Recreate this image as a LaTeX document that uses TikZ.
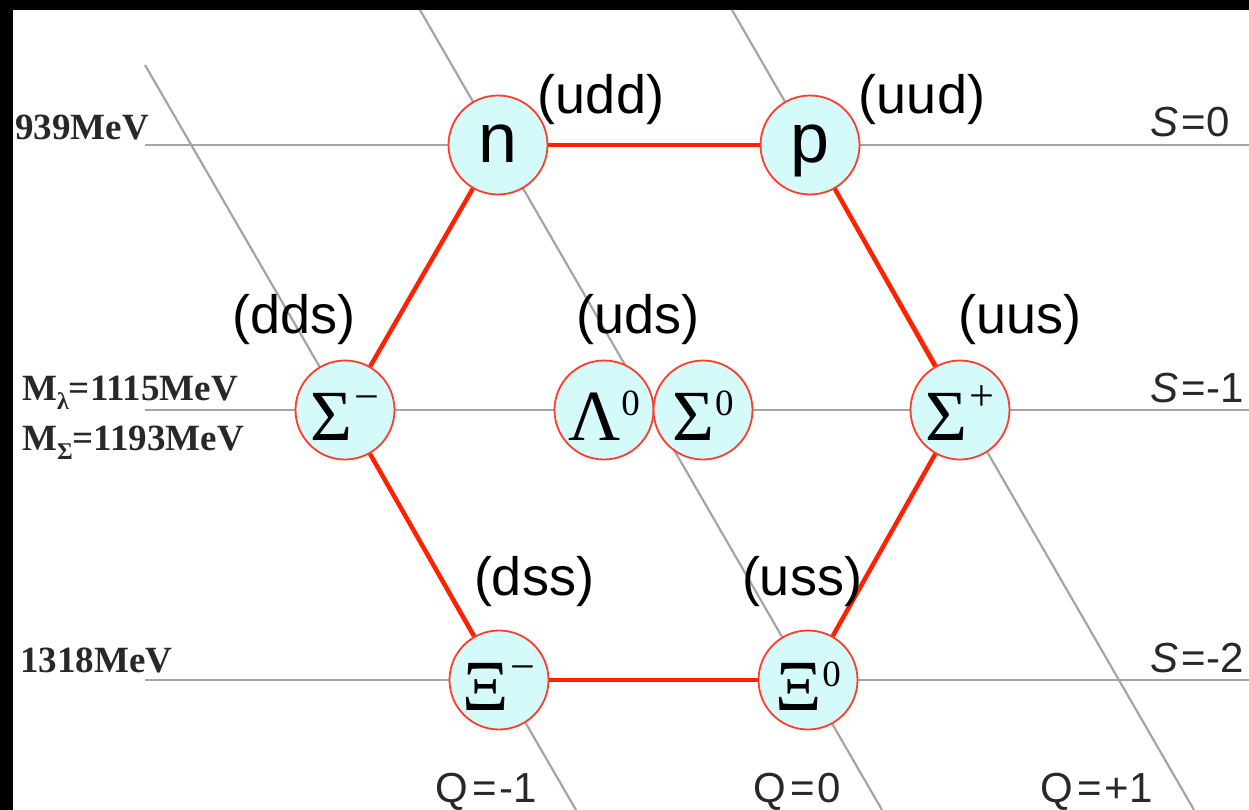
\documentclass[tikz,border=0pt]{standalone}
\usepackage[no-math]{fontspec}
\newfontfamily\sansf{Liberation Sans}
\newfontfamily\serff{Liberation Serif}
\definecolor{nodefill}{RGB}{212,250,250}
\definecolor{nodered}{RGB}{255,60,45}
\definecolor{edgered}{RGB}{255,34,0}
\definecolor{linegray}{RGB}{165,165,165}
\definecolor{labelgray}{RGB}{40,40,40}
\newcommand\upsc[2]{\kern1pt\raisebox{#1}{\fontsize{37}{37}\selectfont #2}}
\newcommand\upop[2]{\kern2pt\raisebox{#1}{\fontsize{44}{44}\selectfont #2}}
\tikzset{
  qsline/.style={draw=linegray, line width=2.2pt},
  part/.style={circle, draw=nodered, line width=1.8pt, fill=nodefill, minimum size=99pt, inner sep=0pt},
  latin/.style={part, font=\sansf\fontsize{70}{70}\selectfont, text height=36pt, text depth=0pt},
  greek/.style={part, font=\serff\fontsize{72}{72}\selectfont, text height=60pt, text depth=0pt},
  link/.style={draw=edgered, line width=4.5pt},
  quark/.style={font=\sansf\fontsize{54}{54}\selectfont, anchor=base, inner sep=0pt},
  mev/.style={font=\serff\bfseries\fontsize{37}{37}\selectfont, anchor=base west, inner sep=0pt, text=labelgray},
  qnum/.style={font=\sansf\fontsize{42}{42}\selectfont, anchor=base west, inner sep=0pt, text=labelgray},
}
\begin{document}
\begin{tikzpicture}[x=1pt, y=-1pt]
\useasboundingbox (0,0) rectangle (1249,810);
\fill[black] (0,0) rectangle (1249,810);
\fill[white] (13,10) rectangle (1249,810);
% grid coordinates
\coordinate (s0a) at (145,145);  \coordinate (s0b) at (1249,145);
\coordinate (s1a) at (145,410);  \coordinate (s1b) at (1249,410);
\coordinate (s2a) at (145,680);  \coordinate (s2b) at (1249,680);
\coordinate (qma) at (145,65);   \coordinate (qmb) at (576,810);
\coordinate (qza) at (420,10);   \coordinate (qzb) at (882,810);
\coordinate (qpa) at (732,10);   \coordinate (qpb) at (1194,810);
\path[qsline] (s0a) -- (s0b);
\path[qsline] (s1a) -- (s1b);
\path[qsline] (s2a) -- (s2b);
\path[qsline] (qma) -- (qmb);
\path[qsline] (qza) -- (qzb);
\path[qsline] (qpa) -- (qpb);
% particles
\node[latin] (n) at (498,145) {n};
\node[latin] (p) at (810,145) {p};
\node[greek] (sm) at (345,410) {Σ\upop{29pt}{−}};
\node[greek] (l0) at (604,410) {Λ\upsc{25pt}{0}};
\node[greek] (s0) at (703,410) {Σ\upsc{25pt}{0}};
\node[greek] (sp) at (960,410) {Σ\upop{30pt}{+}};
\node[greek] (xm) at (499,680) {Ξ\upop{29pt}{−}};
\node[greek] (x0) at (808,680) {Ξ\upsc{24pt}{0}};
% hexagon
\path[link] (n) -- (p);
\path[link] (p) -- (sp);
\path[link] (sp) -- (x0);
\path[link] (x0) -- (xm);
\path[link] (xm) -- (sm);
\path[link] (sm) -- (n);
% quark contents
\node[quark] (qudd) at (601,114) {(udd)};
\node[quark] (quud) at (922,114) {(uud)};
\node[quark] (qdds) at (294,333) {(dds)};
\node[quark] (quds) at (638,333) {(uds)};
\node[quark] (quus) at (1020,333) {(uus)};
\node[quark] (qdss) at (534,595) {(dss)};
\node[quark] (quss) at (802,595) {(uss)};
% mass labels
\node[mev] (m939) at (15,140) {939MeV};
\node[mev] (mlam) at (22,400) {M\raisebox{-9pt}{\fontsize{24}{24}\selectfont λ}=1115MeV};
\node[mev] (msig) at (22,450) {M\raisebox{-9pt}{\fontsize{24}{24}\selectfont Σ}=1193MeV};
\node[mev] (m1318) at (20,672) {1318MeV};
% strangeness labels
\node[qnum] (ls0) at (1150,137) {\itshape S\upshape\kern3pt=\kern1pt0};
\node[qnum] (ls1) at (1150,402) {\itshape S\upshape\kern3pt=\kern1pt-1};
\node[qnum] (ls2) at (1150,672) {\itshape S\upshape\kern3pt=\kern1pt-2};
% charge labels
\node[qnum] (lqm) at (435,802) {Q\kern5pt=\kern2pt-1};
\node[qnum] (lqz) at (753,802) {Q\kern5pt=\kern2pt0};
\node[qnum] (lqp) at (1040,802) {Q\kern5pt=\kern2pt+\kern1pt1};
\end{tikzpicture}
\end{document}
